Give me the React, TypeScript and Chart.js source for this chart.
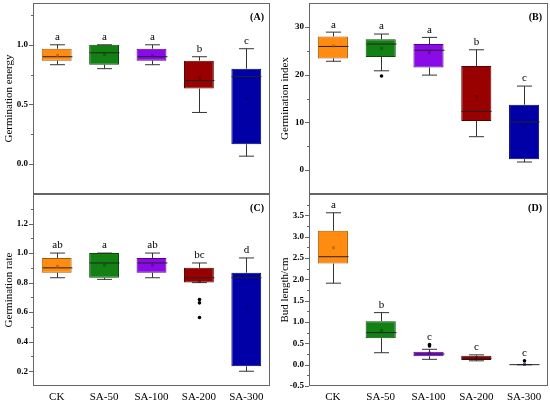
import { useEffect, useRef } from "react";
import { Chart, registerables } from "chart.js";

Chart.register(...registerables);

const categories = ["CK", "SA-50", "SA-100", "SA-200", "SA-300"];

const fillColors = ["#ff8c10", "#138013", "#8a0be8", "#990000", "#0000a6"];
const edgeColors = ["#a85a00", "#0a4a0a", "#52008c", "#560000", "#000066"];

// (A) germination energy
const energyMin = [0.833, 0.8, 0.833, 0.433, 0.067];
const energyQ1 = [0.867, 0.833, 0.867, 0.633, 0.167];
const energyMedian = [0.9, 0.933, 0.9, 0.7, 0.733];
const energyQ3 = [0.967, 1.0, 0.967, 0.867, 0.8];
const energyMax = [1.0, 1.0, 1.0, 0.9, 0.967];
const energyMean = [0.91, 0.92, 0.91, 0.72, 0.55];
const energyOutliers: number[][] = [[], [], [], [], []];
const energyLetters = ["a", "a", "a", "b", "c"];
const energyTicks = [0, 0.5, 1.0];
const energyMinor = [0.25, 0.75, 1.25];

// (B) germination index
const indexMin = [22.8, 20.8, 19.9, 7.0, 1.7];
const indexQ1 = [23.4, 23.7, 21.5, 10.3, 2.3];
const indexMedian = [25.9, 26.4, 25.1, 12.3, 10.1];
const indexQ3 = [28.0, 27.4, 26.4, 21.8, 13.7];
const indexMax = [28.9, 28.5, 27.8, 25.2, 17.6];
const indexMean = [26.0, 25.5, 24.6, 15.4, 9.0];
const indexOutliers: number[][] = [[], [19.7], [], [], []];
const indexLetters = ["a", "a", "a", "b", "c"];
const indexTicks = [0, 10, 20, 30];
const indexMinor = [5, 15, 25];

// (C) germination rate
const rateMin = [0.833, 0.822, 0.833, 0.8, 0.2];
const rateQ1 = [0.867, 0.833, 0.867, 0.8, 0.233];
const rateMedian = [0.9, 0.933, 0.933, 0.833, 0.833];
const rateQ3 = [0.967, 1.0, 0.967, 0.9, 0.867];
const rateMax = [1.0, 1.0, 1.0, 0.933, 0.967];
const rateMean = [0.91, 0.92, 0.92, 0.81, 0.63];
const rateOutliers: number[][] = [[], [], [], [0.685, 0.663, 0.564], []];
const rateLetters = ["ab", "a", "ab", "bc", "d"];
const rateTicks = [0.2, 0.4, 0.6, 0.8, 1.0, 1.2];
const rateMinor = [0.3, 0.5, 0.7, 0.9, 1.1, 1.3];

// (D) bud length
const budMin = [1.91, 0.28, 0.125, 0.09, 0];
const budQ1 = [2.37, 0.62, 0.2, 0.11, 0];
const budMedian = [2.53, 0.75, 0.25, 0.15, 0];
const budQ3 = [3.14, 1.02, 0.3, 0.21, 0];
const budMax = [3.56, 1.22, 0.36, 0.23, 0];
const budMean = [2.74, 0.8, 0.27, 0.16, 0.01];
const budOutliers: number[][] = [[], [], [0.47, 0.44], [], [0.09]];
const budLetters = ["a", "b", "c", "c", "c"];
const budTicks = [-0.5, 0, 0.5, 1.0, 1.5, 2.0, 2.5, 3.0, 3.5];
const budMinor = [-0.25, 0.25, 0.75, 1.25, 1.75, 2.25, 2.75, 3.25, 3.75];

const serif = "'Liberation Serif', 'Times New Roman', serif";

type PanelCfg = {
    label: string;
    title: string;
    yMin: number;
    yMax: number;
    ticks: number[];
    minor: number[];
    decimals: number;
    min: number[];
    q1: number[];
    median: number[];
    q3: number[];
    max: number[];
    mean: number[];
    outliers: number[][];
    letters: string[];
    showX: boolean;
    padTop: number;
    padBottom: number;
};

const boxPlotPlugin = {
    id: "boxPlot",
    afterDatasetsDraw(chart: any, _args: any, opts: any) {
        const ctx = chart.ctx;
        const y = chart.scales.y;
        const area = chart.chartArea;
        const meta = chart.getDatasetMeta(0);
        ctx.save();
        meta.data.forEach((bar: any, i: number) => {
            const x = Math.round(bar.x) + 0.5;
            const half = bar.width / 2;
            const cap = half / 2;
            const pMin = y.getPixelForValue(opts.min[i]);
            const pQ1 = y.getPixelForValue(opts.q1[i]);
            const pQ3 = y.getPixelForValue(opts.q3[i]);
            const pMax = y.getPixelForValue(opts.max[i]);
            const pMed = y.getPixelForValue(opts.median[i]);

            ctx.strokeStyle = "#333";
            ctx.lineWidth = 1;
            ctx.beginPath();
            ctx.moveTo(x, pQ3);
            ctx.lineTo(x, pMax);
            ctx.moveTo(x - cap, pMax);
            ctx.lineTo(x + cap, pMax);
            ctx.moveTo(x, pQ1);
            ctx.lineTo(x, pMin);
            ctx.moveTo(x - cap, pMin);
            ctx.lineTo(x + cap, pMin);
            ctx.stroke();

            ctx.strokeStyle = "#222";
            ctx.beginPath();
            ctx.moveTo(x - half, pMed);
            ctx.lineTo(x + half, pMed);
            ctx.stroke();

            const pMean = y.getPixelForValue(opts.mean[i]);
            ctx.fillStyle = edgeColors[i];
            ctx.globalAlpha = 0.6;
            ctx.fillRect(x - 1.5, pMean - 1.5, 3, 3);
            ctx.globalAlpha = 1;

            let top = pMax;
            ctx.fillStyle = "#000";
            opts.outliers[i].forEach((v: number) => {
                const py = y.getPixelForValue(v);
                top = Math.min(top, py);
                ctx.beginPath();
                ctx.arc(x, py, 1.8, 0, Math.PI * 2);
                ctx.fill();
            });

            ctx.font = `11px ${serif}`;
            ctx.textAlign = "center";
            ctx.textBaseline = "bottom";
            ctx.fillText(opts.letters[i], x, top - 2);
        });

        // axis ticks (major and minor, outward)
        ctx.strokeStyle = "#666";
        ctx.beginPath();
        opts.ticks.forEach((v: number) => {
            const py = Math.round(y.getPixelForValue(v)) + 0.5;
            ctx.moveTo(area.left - 4, py);
            ctx.lineTo(area.left, py);
        });
        opts.minor.forEach((v: number) => {
            const py = Math.round(y.getPixelForValue(v)) + 0.5;
            ctx.moveTo(area.left - 2, py);
            ctx.lineTo(area.left, py);
        });
        ctx.stroke();

        // frame
        ctx.strokeStyle = "#666";
        ctx.strokeRect(
            Math.round(area.left) + 0.5,
            Math.round(area.top) + 0.5,
            Math.round(area.right - area.left) - 1,
            Math.round(area.bottom - area.top) - 1
        );

        ctx.fillStyle = "#000";
        ctx.font = `bold 10px ${serif}`;
        ctx.textAlign = "right";
        ctx.textBaseline = "middle";
        ctx.fillText(opts.label, area.right - 6, area.top + 14);
        ctx.restore();
    },
};

function BoxPanel({ cfg, left, top, width, height }: { cfg: PanelCfg; left: number; top: number; width: number; height: number }) {
    const canvasRef = useRef<HTMLCanvasElement | null>(null);
    const chartInstance = useRef<Chart | null>(null);

    useEffect(() => {
        if (chartInstance.current) {
            chartInstance.current.destroy();
        }
        if (!canvasRef.current) return;

        chartInstance.current = new Chart(canvasRef.current, {
            type: "bar",
            data: {
                labels: categories,
                datasets: [
                    {
                        data: cfg.q1.map((v, i) => [v, cfg.q3[i]]) as any,
                        backgroundColor: fillColors,
                        borderColor: edgeColors,
                        borderWidth: 1,
                        borderSkipped: false,
                        barPercentage: 0.63,
                        categoryPercentage: 1,
                    },
                ],
            },
            options: {
                responsive: true,
                maintainAspectRatio: false,
                animation: false,
                layout: { padding: { top: cfg.padTop, bottom: cfg.padBottom, left: 0, right: 2 } },
                plugins: {
                    legend: { display: false },
                    tooltip: { enabled: false },
                    boxPlot: cfg,
                } as any,
                scales: {
                    x: {
                        display: cfg.showX,
                        offset: true,
                        grid: { display: false, drawTicks: false },
                        border: { display: false },
                        ticks: { color: "#000", font: { family: serif, size: 11 }, padding: 5 },
                        afterFit: (s: any) => {
                            if (cfg.showX) s.height = 18;
                            s.paddingLeft = 0;
                            s.paddingRight = 0;
                        },
                    },
                    y: {
                        min: cfg.yMin,
                        max: cfg.yMax,
                        grid: { display: false, drawTicks: false },
                        border: { display: false },
                        afterBuildTicks: (s: any) => {
                            s.ticks = cfg.ticks.map(v => ({ value: v }));
                        },
                        afterFit: (s: any) => {
                            s.width = 33;
                            s.paddingTop = 0;
                            s.paddingBottom = 0;
                        },
                        ticks: {
                            color: "#000",
                            padding: 5,
                            font: { family: serif, size: 9, weight: "bold" },
                            callback: (v: any) => Number(v).toFixed(cfg.decimals),
                        },
                        title: {
                            display: true,
                            text: cfg.title,
                            color: "#000",
                            font: { family: serif, size: 11 },
                            padding: { top: 3, bottom: 0 },
                        },
                    },
                },
            },
            plugins: [boxPlotPlugin],
        });

        return () => {
            if (chartInstance.current) {
                chartInstance.current.destroy();
                chartInstance.current = null;
            }
        };
    }, [cfg]);

    return (
        <div style={{ position: "absolute", left, top, width, height }}>
            <canvas ref={canvasRef} />
        </div>
    );
}

const panelA: PanelCfg = {
    label: "(A)", title: "Germination energy", yMin: -0.25, yMax: 1.35,
    ticks: energyTicks, minor: energyMinor, decimals: 1,
    min: energyMin, q1: energyQ1, median: energyMedian, q3: energyQ3, max: energyMax,
    mean: energyMean, outliers: energyOutliers, letters: energyLetters,
    showX: false, padTop: 3, padBottom: 4,
};
const panelB: PanelCfg = {
    label: "(B)", title: "Germination index", yMin: -5, yMax: 35,
    ticks: indexTicks, minor: indexMinor, decimals: 0,
    min: indexMin, q1: indexQ1, median: indexMedian, q3: indexQ3, max: indexMax,
    mean: indexMean, outliers: indexOutliers, letters: indexLetters,
    showX: false, padTop: 3, padBottom: 4,
};
const panelC: PanelCfg = {
    label: "(C)", title: "Germination rate", yMin: 0.1, yMax: 1.4,
    ticks: rateTicks, minor: rateMinor, decimals: 1,
    min: rateMin, q1: rateQ1, median: rateMedian, q3: rateQ3, max: rateMax,
    mean: rateMean, outliers: rateOutliers, letters: rateLetters,
    showX: true, padTop: 4, padBottom: 0,
};
const panelD: PanelCfg = {
    label: "(D)", title: "Bud length/cm", yMin: -0.5, yMax: 4.0,
    ticks: budTicks, minor: budMinor, decimals: 1,
    min: budMin, q1: budQ1, median: budMedian, q3: budQ3, max: budMax,
    mean: budMean, outliers: budOutliers, letters: budLetters,
    showX: true, padTop: 4, padBottom: 0,
};

export default function App() {
    return (
        <div style={{ position: "absolute", left: 0, top: 0, width: 550, height: 404, background: "#fff" }}>
            <BoxPanel cfg={panelA} left={0} top={0} width={272} height={198} />
            <BoxPanel cfg={panelB} left={276} top={0} width={274} height={198} />
            <BoxPanel cfg={panelC} left={0} top={190} width={272} height={214} />
            <BoxPanel cfg={panelD} left={276} top={190} width={274} height={214} />
        </div>
    );
}
